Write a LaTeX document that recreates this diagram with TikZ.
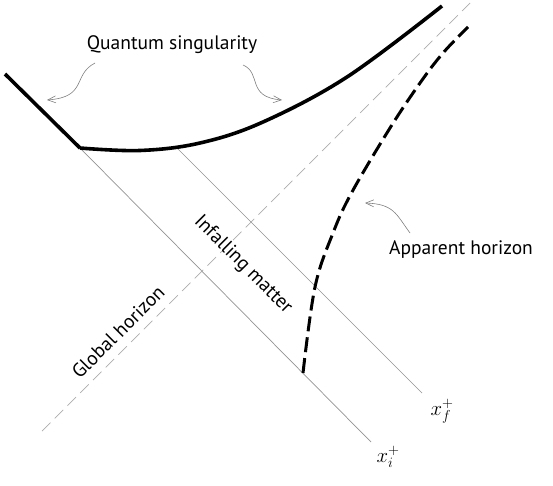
\documentclass[tikz,border=0pt]{standalone}
\usepackage{fontspec}
\setmainfont{PT Sans}
\usetikzlibrary{arrows.meta}

\begin{document}
\begin{tikzpicture}[x=1pt, y=-1pt,
    singular/.style={line width=3.6pt, line join=miter},
    apparent/.style={line width=3pt, dash pattern=on 15pt off 6pt},
    ray/.style={gray!85, line width=0.7pt},
    globalh/.style={gray!65, line width=0.7pt, dash pattern=on 12pt off 6pt},
    tag/.style={font=\fontsize{19.5}{22}\selectfont, inner sep=0pt},
    mathtag/.style={font=\fontsize{22}{26}\selectfont, inner sep=0pt},
    pointer/.style={-{Straight Barb[length=8pt,width=7pt]}, gray, line width=0.6pt}
]
\useasboundingbox (0,0) rectangle (553,486);

% key points
\coordinate (sl) at (5,74);
\coordinate (kink) at (80,148);
\coordinate (sf) at (177,148);
\coordinate (ei) at (371,442);
\coordinate (ef) at (422,393);
\coordinate (gl) at (42,431);
\coordinate (gr) at (470,3);

% global horizon and infalling rays
\draw[globalh] (gl) -- (gr);
\draw[ray] (kink) -- (ei);
\draw[ray] (sf) -- (ef);

% quantum singularity
\draw[singular] (sl) -- (kink) plot[smooth, tension=0.6] coordinates
    {(80,148) (140,150.5) (200,143) (263,122) (347,77) (442,6)};

% apparent horizon
\draw[apparent] plot[smooth, tension=0.6] coordinates
    {(303,373) (315,287) (333,233) (352,192) (390,128) (420,83) (443,53) (468,27)};

% labels
\node[tag] (qs) at (172,45) {Quantum singularity};
\node[tag] (ah) at (461,250) {Apparent horizon};
\node[tag, rotate=45] (gh) at (118,332) {Global horizon};
\node[tag, rotate=-45] (im) at (243,265) {Infalling matter};
\node[mathtag] (xf) at (442,411) {$x_f^+$};
\node[mathtag] (xi) at (388,457) {$x_i^+$};

% pointers
\coordinate (p1) at (95,63);
\coordinate (q1) at (47,100);
\coordinate (p2) at (243,65);
\coordinate (q2) at (282,100);
\coordinate (p3) at (410,233);
\coordinate (q3) at (365,203);
\draw[pointer] (p1) .. controls (72,75) and (88,97) .. (q1);
\draw[pointer] (p2) .. controls (262,73) and (246,97) .. (q2);
\draw[pointer] (p3) .. controls (396,214) and (394,204) .. (q3);
\end{tikzpicture}
\end{document}
